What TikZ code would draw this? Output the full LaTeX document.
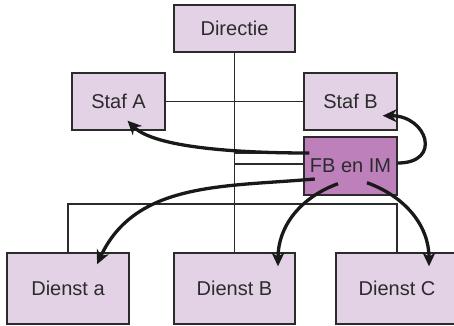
\documentclass[tikz,border=0pt]{standalone}
\usepackage{fontspec}
\setmainfont{Liberation Sans}
\usetikzlibrary{positioning,arrows.meta,calc}
\definecolor{lila}{HTML}{E3D1E6}
\definecolor{paars}{HTML}{BE80BB}
\definecolor{lijn}{HTML}{2B2B2B}

\begin{document}
\begin{tikzpicture}[x=1pt,y=1pt,on grid,
  unit/.style={draw=lijn,line width=1.4pt,fill=lila,inner sep=0pt,text=lijn,font=\fontsize{20}{23}\selectfont},
  tak/.style={draw=lijn,line width=1.2pt},
  flow/.style={draw=black!90,line width=3.3pt,-{Stealth[length=14pt,width=13pt]}}]
\useasboundingbox (0,0) rectangle (454,-325);
\node[unit,minimum width=121pt,minimum height=47pt] (dir) at (234.5,-28.5) {Directie};
\node[unit,minimum width=93pt,minimum height=57pt,below left=73pt and 116pt of dir] (stafA) {Staf A};
\node[unit,minimum width=93pt,minimum height=57pt,right=232pt of stafA] (stafB) {Staf B};
\node[unit,fill=paars,minimum width=93pt,minimum height=58pt,below=64.5pt of stafB] (fbim) {FB en IM};
\node[unit,minimum width=121pt,minimum height=71pt,below=260pt of dir] (dienstB) {Dienst B};
\node[unit,minimum width=122pt,minimum height=71pt,left=166.5pt of dienstB] (dienstA) {Dienst a};
\node[unit,minimum width=122pt,minimum height=71pt,right=162.5pt of dienstB] (dienstC) {Dienst C};
% lijnen
\coordinate (fb1) at ([yshift=13pt]fbim.west);
\coordinate (fb2) at ([yshift=2pt]fbim.west);
\coordinate (bar) at (0,-204);
\draw[tak] (dir) -- (dienstB);
\draw[tak] (stafA) -- (stafB);
\draw[tak] (fb1) -- (fb1 -| dir);
\draw[tak] (fb2) -- (fb2 -| dir);
\draw[tak] (dienstA) -- (dienstA |- bar) -- (dienstC |- bar) -- (dienstC);
% pijlen
\draw[flow] ([xshift=6pt]fb1) to[out=180,in=-45,looseness=0.6] ([shift={(9pt,10pt)}]stafA.south);
\draw[flow] ([yshift=3pt]fbim.east) to[out=0,in=0,looseness=2.3] ([shift={(-15pt,15pt)}]stafB.south east);
\draw[flow] ([shift={(11.5pt,-13pt)}]fbim.west) to[out=185,in=65] ([shift={(29pt,-12pt)}]dienstA.north);
\draw[flow] ([shift={(-12.5pt,12pt)}]fbim.south) to[out=200,in=90] ([shift={(43.5pt,-14pt)}]dienstB.north);
\draw[flow] ([shift={(16.5pt,13pt)}]fbim.south) to[out=-20,in=90] ([shift={(32pt,-14pt)}]dienstC.north);
\end{tikzpicture}
\end{document}
